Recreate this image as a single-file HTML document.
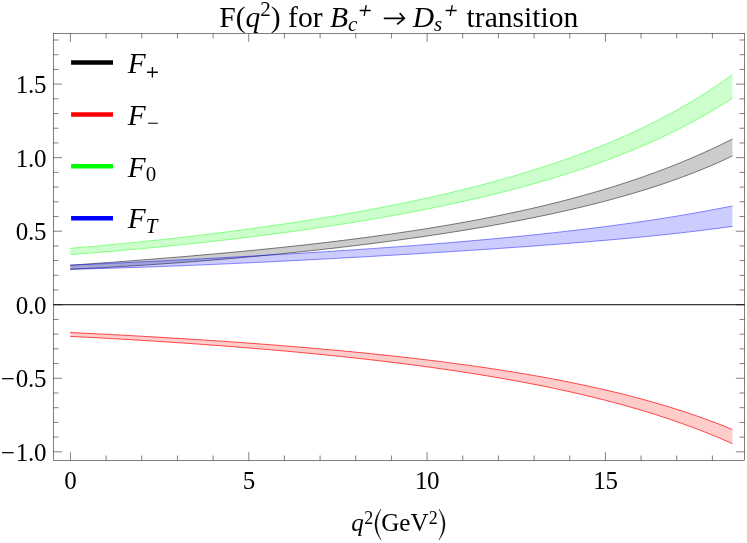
<!DOCTYPE html>
<html><head><meta charset="utf-8"><title>chart</title><style>html,body{margin:0;padding:0;background:#fff;}svg{display:block;will-change:transform;}</style></head><body>
<svg width="747" height="543" viewBox="0 0 747 543">
<rect width="747" height="543" fill="#fff"/>
<path d="M70.20 265.21 L75.76 264.82 L81.33 264.43 L86.89 264.04 L92.46 263.64 L98.02 263.24 L103.59 262.84 L109.15 262.43 L114.72 262.02 L120.28 261.61 L125.85 261.19 L131.41 260.77 L136.98 260.34 L142.54 259.91 L148.11 259.48 L153.67 259.04 L159.24 258.59 L164.80 258.14 L170.36 257.69 L175.93 257.23 L181.49 256.77 L187.06 256.30 L192.62 255.83 L198.19 255.35 L203.75 254.86 L209.32 254.37 L214.88 253.88 L220.45 253.37 L226.01 252.87 L231.58 252.35 L237.14 251.83 L242.71 251.30 L248.27 250.76 L253.84 250.22 L259.40 249.67 L264.96 249.11 L270.53 248.55 L276.09 247.98 L281.66 247.40 L287.22 246.81 L292.79 246.21 L298.35 245.60 L303.92 244.99 L309.48 244.36 L315.05 243.73 L320.61 243.08 L326.18 242.43 L331.74 241.77 L337.31 241.09 L342.87 240.41 L348.44 239.71 L354.00 239.00 L359.56 238.29 L365.13 237.56 L370.69 236.81 L376.26 236.06 L381.82 235.29 L387.39 234.51 L392.95 233.72 L398.52 232.91 L404.08 232.09 L409.65 231.25 L415.21 230.40 L420.78 229.54 L426.34 228.66 L431.91 227.76 L437.47 226.85 L443.04 225.92 L448.60 224.97 L454.16 224.01 L459.73 223.02 L465.29 222.02 L470.86 221.00 L476.42 219.96 L481.99 218.90 L487.55 217.82 L493.12 216.72 L498.68 215.60 L504.25 214.46 L509.81 213.29 L515.38 212.10 L520.94 210.89 L526.51 209.65 L532.07 208.38 L537.64 207.09 L543.20 205.78 L548.76 204.44 L554.33 203.07 L559.89 201.67 L565.46 200.24 L571.02 198.78 L576.59 197.29 L582.15 195.77 L587.72 194.22 L593.28 192.63 L598.85 191.01 L604.41 189.36 L609.98 187.66 L615.54 185.94 L621.11 184.17 L626.67 182.36 L632.24 180.52 L637.80 178.63 L643.36 176.70 L648.93 174.73 L654.49 172.71 L660.06 170.65 L665.62 168.54 L671.19 166.38 L676.75 164.17 L682.32 161.91 L687.88 159.59 L693.45 157.23 L699.01 154.80 L704.58 152.32 L710.14 149.79 L715.71 147.19 L721.27 144.53 L726.84 141.80 L732.40 139.01 L732.40 155.99 L726.84 158.62 L721.27 161.16 L715.71 163.64 L710.14 166.04 L704.58 168.37 L699.01 170.64 L693.45 172.84 L687.88 174.98 L682.32 177.07 L676.75 179.10 L671.19 181.08 L665.62 183.01 L660.06 184.88 L654.49 186.71 L648.93 188.50 L643.36 190.24 L637.80 191.94 L632.24 193.59 L626.67 195.21 L621.11 196.79 L615.54 198.34 L609.98 199.85 L604.41 201.32 L598.85 202.77 L593.28 204.18 L587.72 205.56 L582.15 206.92 L576.59 208.24 L571.02 209.54 L565.46 210.81 L559.89 212.06 L554.33 213.28 L548.76 214.48 L543.20 215.66 L537.64 216.81 L532.07 217.94 L526.51 219.06 L520.94 220.15 L515.38 221.22 L509.81 222.27 L504.25 223.31 L498.68 224.32 L493.12 225.32 L487.55 226.30 L481.99 227.27 L476.42 228.22 L470.86 229.15 L465.29 230.07 L459.73 230.98 L454.16 231.87 L448.60 232.74 L443.04 233.61 L437.47 234.46 L431.91 235.29 L426.34 236.12 L420.78 236.93 L415.21 237.73 L409.65 238.51 L404.08 239.29 L398.52 240.05 L392.95 240.81 L387.39 241.55 L381.82 242.28 L376.26 243.00 L370.69 243.71 L365.13 244.41 L359.56 245.10 L354.00 245.78 L348.44 246.45 L342.87 247.11 L337.31 247.76 L331.74 248.40 L326.18 249.03 L320.61 249.66 L315.05 250.27 L309.48 250.88 L303.92 251.47 L298.35 252.06 L292.79 252.64 L287.22 253.21 L281.66 253.77 L276.09 254.33 L270.53 254.87 L264.96 255.41 L259.40 255.94 L253.84 256.46 L248.27 256.97 L242.71 257.48 L237.14 257.97 L231.58 258.46 L226.01 258.94 L220.45 259.42 L214.88 259.88 L209.32 260.34 L203.75 260.79 L198.19 261.23 L192.62 261.67 L187.06 262.09 L181.49 262.51 L175.93 262.92 L170.36 263.33 L164.80 263.72 L159.24 264.11 L153.67 264.49 L148.11 264.87 L142.54 265.23 L136.98 265.59 L131.41 265.94 L125.85 266.29 L120.28 266.62 L114.72 266.95 L109.15 267.27 L103.59 267.58 L98.02 267.89 L92.46 268.19 L86.89 268.48 L81.33 268.76 L75.76 269.04 L70.20 269.31 Z" fill="#000" fill-opacity="0.2" stroke="none"/>
<path d="M70.20 265.21 L75.76 264.82 L81.33 264.43 L86.89 264.04 L92.46 263.64 L98.02 263.24 L103.59 262.84 L109.15 262.43 L114.72 262.02 L120.28 261.61 L125.85 261.19 L131.41 260.77 L136.98 260.34 L142.54 259.91 L148.11 259.48 L153.67 259.04 L159.24 258.59 L164.80 258.14 L170.36 257.69 L175.93 257.23 L181.49 256.77 L187.06 256.30 L192.62 255.83 L198.19 255.35 L203.75 254.86 L209.32 254.37 L214.88 253.88 L220.45 253.37 L226.01 252.87 L231.58 252.35 L237.14 251.83 L242.71 251.30 L248.27 250.76 L253.84 250.22 L259.40 249.67 L264.96 249.11 L270.53 248.55 L276.09 247.98 L281.66 247.40 L287.22 246.81 L292.79 246.21 L298.35 245.60 L303.92 244.99 L309.48 244.36 L315.05 243.73 L320.61 243.08 L326.18 242.43 L331.74 241.77 L337.31 241.09 L342.87 240.41 L348.44 239.71 L354.00 239.00 L359.56 238.29 L365.13 237.56 L370.69 236.81 L376.26 236.06 L381.82 235.29 L387.39 234.51 L392.95 233.72 L398.52 232.91 L404.08 232.09 L409.65 231.25 L415.21 230.40 L420.78 229.54 L426.34 228.66 L431.91 227.76 L437.47 226.85 L443.04 225.92 L448.60 224.97 L454.16 224.01 L459.73 223.02 L465.29 222.02 L470.86 221.00 L476.42 219.96 L481.99 218.90 L487.55 217.82 L493.12 216.72 L498.68 215.60 L504.25 214.46 L509.81 213.29 L515.38 212.10 L520.94 210.89 L526.51 209.65 L532.07 208.38 L537.64 207.09 L543.20 205.78 L548.76 204.44 L554.33 203.07 L559.89 201.67 L565.46 200.24 L571.02 198.78 L576.59 197.29 L582.15 195.77 L587.72 194.22 L593.28 192.63 L598.85 191.01 L604.41 189.36 L609.98 187.66 L615.54 185.94 L621.11 184.17 L626.67 182.36 L632.24 180.52 L637.80 178.63 L643.36 176.70 L648.93 174.73 L654.49 172.71 L660.06 170.65 L665.62 168.54 L671.19 166.38 L676.75 164.17 L682.32 161.91 L687.88 159.59 L693.45 157.23 L699.01 154.80 L704.58 152.32 L710.14 149.79 L715.71 147.19 L721.27 144.53 L726.84 141.80 L732.40 139.01" fill="none" stroke="#000" stroke-width="0.5"/>
<path d="M70.20 269.31 L75.76 269.04 L81.33 268.76 L86.89 268.48 L92.46 268.19 L98.02 267.89 L103.59 267.58 L109.15 267.27 L114.72 266.95 L120.28 266.62 L125.85 266.29 L131.41 265.94 L136.98 265.59 L142.54 265.23 L148.11 264.87 L153.67 264.49 L159.24 264.11 L164.80 263.72 L170.36 263.33 L175.93 262.92 L181.49 262.51 L187.06 262.09 L192.62 261.67 L198.19 261.23 L203.75 260.79 L209.32 260.34 L214.88 259.88 L220.45 259.42 L226.01 258.94 L231.58 258.46 L237.14 257.97 L242.71 257.48 L248.27 256.97 L253.84 256.46 L259.40 255.94 L264.96 255.41 L270.53 254.87 L276.09 254.33 L281.66 253.77 L287.22 253.21 L292.79 252.64 L298.35 252.06 L303.92 251.47 L309.48 250.88 L315.05 250.27 L320.61 249.66 L326.18 249.03 L331.74 248.40 L337.31 247.76 L342.87 247.11 L348.44 246.45 L354.00 245.78 L359.56 245.10 L365.13 244.41 L370.69 243.71 L376.26 243.00 L381.82 242.28 L387.39 241.55 L392.95 240.81 L398.52 240.05 L404.08 239.29 L409.65 238.51 L415.21 237.73 L420.78 236.93 L426.34 236.12 L431.91 235.29 L437.47 234.46 L443.04 233.61 L448.60 232.74 L454.16 231.87 L459.73 230.98 L465.29 230.07 L470.86 229.15 L476.42 228.22 L481.99 227.27 L487.55 226.30 L493.12 225.32 L498.68 224.32 L504.25 223.31 L509.81 222.27 L515.38 221.22 L520.94 220.15 L526.51 219.06 L532.07 217.94 L537.64 216.81 L543.20 215.66 L548.76 214.48 L554.33 213.28 L559.89 212.06 L565.46 210.81 L571.02 209.54 L576.59 208.24 L582.15 206.92 L587.72 205.56 L593.28 204.18 L598.85 202.77 L604.41 201.32 L609.98 199.85 L615.54 198.34 L621.11 196.79 L626.67 195.21 L632.24 193.59 L637.80 191.94 L643.36 190.24 L648.93 188.50 L654.49 186.71 L660.06 184.88 L665.62 183.01 L671.19 181.08 L676.75 179.10 L682.32 177.07 L687.88 174.98 L693.45 172.84 L699.01 170.64 L704.58 168.37 L710.14 166.04 L715.71 163.64 L721.27 161.16 L726.84 158.62 L732.40 155.99" fill="none" stroke="#000" stroke-width="0.5"/>

<path d="M70.20 332.49 L75.76 332.76 L81.33 333.03 L86.89 333.31 L92.46 333.59 L98.02 333.88 L103.59 334.16 L109.15 334.45 L114.72 334.75 L120.28 335.05 L125.85 335.35 L131.41 335.65 L136.98 335.96 L142.54 336.28 L148.11 336.60 L153.67 336.92 L159.24 337.24 L164.80 337.57 L170.36 337.91 L175.93 338.25 L181.49 338.59 L187.06 338.94 L192.62 339.29 L198.19 339.65 L203.75 340.01 L209.32 340.38 L214.88 340.75 L220.45 341.13 L226.01 341.51 L231.58 341.90 L237.14 342.29 L242.71 342.69 L248.27 343.09 L253.84 343.50 L259.40 343.92 L264.96 344.34 L270.53 344.77 L276.09 345.20 L281.66 345.64 L287.22 346.09 L292.79 346.54 L298.35 347.00 L303.92 347.47 L309.48 347.94 L315.05 348.42 L320.61 348.91 L326.18 349.41 L331.74 349.91 L337.31 350.42 L342.87 350.94 L348.44 351.47 L354.00 352.01 L359.56 352.55 L365.13 353.10 L370.69 353.67 L376.26 354.24 L381.82 354.82 L387.39 355.41 L392.95 356.01 L398.52 356.63 L404.08 357.25 L409.65 357.88 L415.21 358.52 L420.78 359.18 L426.34 359.85 L431.91 360.52 L437.47 361.22 L443.04 361.92 L448.60 362.64 L454.16 363.37 L459.73 364.11 L465.29 364.87 L470.86 365.64 L476.42 366.42 L481.99 367.23 L487.55 368.04 L493.12 368.88 L498.68 369.72 L504.25 370.59 L509.81 371.47 L515.38 372.38 L520.94 373.30 L526.51 374.23 L532.07 375.19 L537.64 376.17 L543.20 377.17 L548.76 378.19 L554.33 379.23 L559.89 380.30 L565.46 381.39 L571.02 382.50 L576.59 383.63 L582.15 384.80 L587.72 385.99 L593.28 387.20 L598.85 388.44 L604.41 389.71 L609.98 391.02 L615.54 392.35 L621.11 393.71 L626.67 395.11 L632.24 396.54 L637.80 398.00 L643.36 399.50 L648.93 401.04 L654.49 402.61 L660.06 404.23 L665.62 405.88 L671.19 407.58 L676.75 409.32 L682.32 411.11 L687.88 412.94 L693.45 414.83 L699.01 416.76 L704.58 418.74 L710.14 420.78 L715.71 422.87 L721.27 425.02 L726.84 427.22 L732.40 429.49 L732.40 443.70 L726.84 441.23 L721.27 438.82 L715.71 436.47 L710.14 434.19 L704.58 431.96 L699.01 429.80 L693.45 427.68 L687.88 425.62 L682.32 423.61 L676.75 421.66 L671.19 419.75 L665.62 417.88 L660.06 416.06 L654.49 414.29 L648.93 412.56 L643.36 410.86 L637.80 409.21 L632.24 407.60 L626.67 406.02 L621.11 404.48 L615.54 402.97 L609.98 401.50 L604.41 400.06 L598.85 398.66 L593.28 397.28 L587.72 395.93 L582.15 394.61 L576.59 393.33 L571.02 392.06 L565.46 390.83 L559.89 389.62 L554.33 388.43 L548.76 387.27 L543.20 386.14 L537.64 385.02 L532.07 383.93 L526.51 382.86 L520.94 381.82 L515.38 380.79 L509.81 379.78 L504.25 378.79 L498.68 377.82 L493.12 376.87 L487.55 375.94 L481.99 375.02 L476.42 374.12 L470.86 373.24 L465.29 372.38 L459.73 371.53 L454.16 370.69 L448.60 369.87 L443.04 369.07 L437.47 368.28 L431.91 367.50 L426.34 366.74 L420.78 365.99 L415.21 365.25 L409.65 364.52 L404.08 363.81 L398.52 363.11 L392.95 362.42 L387.39 361.74 L381.82 361.08 L376.26 360.42 L370.69 359.78 L365.13 359.15 L359.56 358.52 L354.00 357.91 L348.44 357.30 L342.87 356.71 L337.31 356.13 L331.74 355.55 L326.18 354.98 L320.61 354.43 L315.05 353.88 L309.48 353.34 L303.92 352.81 L298.35 352.28 L292.79 351.77 L287.22 351.26 L281.66 350.76 L276.09 350.27 L270.53 349.78 L264.96 349.30 L259.40 348.83 L253.84 348.37 L248.27 347.91 L242.71 347.46 L237.14 347.02 L231.58 346.58 L226.01 346.15 L220.45 345.73 L214.88 345.31 L209.32 344.90 L203.75 344.50 L198.19 344.10 L192.62 343.70 L187.06 343.32 L181.49 342.93 L175.93 342.56 L170.36 342.19 L164.80 341.82 L159.24 341.46 L153.67 341.11 L148.11 340.76 L142.54 340.42 L136.98 340.08 L131.41 339.74 L125.85 339.41 L120.28 339.09 L114.72 338.77 L109.15 338.46 L103.59 338.15 L98.02 337.84 L92.46 337.54 L86.89 337.25 L81.33 336.96 L75.76 336.67 L70.20 336.39 Z" fill="#f00" fill-opacity="0.2" stroke="none"/>
<path d="M70.20 332.49 L75.76 332.76 L81.33 333.03 L86.89 333.31 L92.46 333.59 L98.02 333.88 L103.59 334.16 L109.15 334.45 L114.72 334.75 L120.28 335.05 L125.85 335.35 L131.41 335.65 L136.98 335.96 L142.54 336.28 L148.11 336.60 L153.67 336.92 L159.24 337.24 L164.80 337.57 L170.36 337.91 L175.93 338.25 L181.49 338.59 L187.06 338.94 L192.62 339.29 L198.19 339.65 L203.75 340.01 L209.32 340.38 L214.88 340.75 L220.45 341.13 L226.01 341.51 L231.58 341.90 L237.14 342.29 L242.71 342.69 L248.27 343.09 L253.84 343.50 L259.40 343.92 L264.96 344.34 L270.53 344.77 L276.09 345.20 L281.66 345.64 L287.22 346.09 L292.79 346.54 L298.35 347.00 L303.92 347.47 L309.48 347.94 L315.05 348.42 L320.61 348.91 L326.18 349.41 L331.74 349.91 L337.31 350.42 L342.87 350.94 L348.44 351.47 L354.00 352.01 L359.56 352.55 L365.13 353.10 L370.69 353.67 L376.26 354.24 L381.82 354.82 L387.39 355.41 L392.95 356.01 L398.52 356.63 L404.08 357.25 L409.65 357.88 L415.21 358.52 L420.78 359.18 L426.34 359.85 L431.91 360.52 L437.47 361.22 L443.04 361.92 L448.60 362.64 L454.16 363.37 L459.73 364.11 L465.29 364.87 L470.86 365.64 L476.42 366.42 L481.99 367.23 L487.55 368.04 L493.12 368.88 L498.68 369.72 L504.25 370.59 L509.81 371.47 L515.38 372.38 L520.94 373.30 L526.51 374.23 L532.07 375.19 L537.64 376.17 L543.20 377.17 L548.76 378.19 L554.33 379.23 L559.89 380.30 L565.46 381.39 L571.02 382.50 L576.59 383.63 L582.15 384.80 L587.72 385.99 L593.28 387.20 L598.85 388.44 L604.41 389.71 L609.98 391.02 L615.54 392.35 L621.11 393.71 L626.67 395.11 L632.24 396.54 L637.80 398.00 L643.36 399.50 L648.93 401.04 L654.49 402.61 L660.06 404.23 L665.62 405.88 L671.19 407.58 L676.75 409.32 L682.32 411.11 L687.88 412.94 L693.45 414.83 L699.01 416.76 L704.58 418.74 L710.14 420.78 L715.71 422.87 L721.27 425.02 L726.84 427.22 L732.40 429.49" fill="none" stroke="#f00" stroke-width="0.7"/>
<path d="M70.20 336.39 L75.76 336.67 L81.33 336.96 L86.89 337.25 L92.46 337.54 L98.02 337.84 L103.59 338.15 L109.15 338.46 L114.72 338.77 L120.28 339.09 L125.85 339.41 L131.41 339.74 L136.98 340.08 L142.54 340.42 L148.11 340.76 L153.67 341.11 L159.24 341.46 L164.80 341.82 L170.36 342.19 L175.93 342.56 L181.49 342.93 L187.06 343.32 L192.62 343.70 L198.19 344.10 L203.75 344.50 L209.32 344.90 L214.88 345.31 L220.45 345.73 L226.01 346.15 L231.58 346.58 L237.14 347.02 L242.71 347.46 L248.27 347.91 L253.84 348.37 L259.40 348.83 L264.96 349.30 L270.53 349.78 L276.09 350.27 L281.66 350.76 L287.22 351.26 L292.79 351.77 L298.35 352.28 L303.92 352.81 L309.48 353.34 L315.05 353.88 L320.61 354.43 L326.18 354.98 L331.74 355.55 L337.31 356.13 L342.87 356.71 L348.44 357.30 L354.00 357.91 L359.56 358.52 L365.13 359.15 L370.69 359.78 L376.26 360.42 L381.82 361.08 L387.39 361.74 L392.95 362.42 L398.52 363.11 L404.08 363.81 L409.65 364.52 L415.21 365.25 L420.78 365.99 L426.34 366.74 L431.91 367.50 L437.47 368.28 L443.04 369.07 L448.60 369.87 L454.16 370.69 L459.73 371.53 L465.29 372.38 L470.86 373.24 L476.42 374.12 L481.99 375.02 L487.55 375.94 L493.12 376.87 L498.68 377.82 L504.25 378.79 L509.81 379.78 L515.38 380.79 L520.94 381.82 L526.51 382.86 L532.07 383.93 L537.64 385.02 L543.20 386.14 L548.76 387.27 L554.33 388.43 L559.89 389.62 L565.46 390.83 L571.02 392.06 L576.59 393.33 L582.15 394.61 L587.72 395.93 L593.28 397.28 L598.85 398.66 L604.41 400.06 L609.98 401.50 L615.54 402.97 L621.11 404.48 L626.67 406.02 L632.24 407.60 L637.80 409.21 L643.36 410.86 L648.93 412.56 L654.49 414.29 L660.06 416.06 L665.62 417.88 L671.19 419.75 L676.75 421.66 L682.32 423.61 L687.88 425.62 L693.45 427.68 L699.01 429.80 L704.58 431.96 L710.14 434.19 L715.71 436.47 L721.27 438.82 L726.84 441.23 L732.40 443.70" fill="none" stroke="#f00" stroke-width="0.7"/>

<path d="M70.20 248.32 L75.76 247.85 L81.33 247.37 L86.89 246.88 L92.46 246.39 L98.02 245.89 L103.59 245.38 L109.15 244.86 L114.72 244.33 L120.28 243.80 L125.85 243.25 L131.41 242.70 L136.98 242.14 L142.54 241.57 L148.11 241.00 L153.67 240.41 L159.24 239.82 L164.80 239.21 L170.36 238.60 L175.93 237.98 L181.49 237.35 L187.06 236.71 L192.62 236.06 L198.19 235.40 L203.75 234.74 L209.32 234.06 L214.88 233.37 L220.45 232.67 L226.01 231.97 L231.58 231.25 L237.14 230.52 L242.71 229.78 L248.27 229.03 L253.84 228.27 L259.40 227.50 L264.96 226.72 L270.53 225.93 L276.09 225.12 L281.66 224.30 L287.22 223.48 L292.79 222.64 L298.35 221.78 L303.92 220.92 L309.48 220.04 L315.05 219.15 L320.61 218.24 L326.18 217.33 L331.74 216.39 L337.31 215.45 L342.87 214.49 L348.44 213.51 L354.00 212.52 L359.56 211.52 L365.13 210.50 L370.69 209.46 L376.26 208.41 L381.82 207.34 L387.39 206.26 L392.95 205.15 L398.52 204.03 L404.08 202.89 L409.65 201.74 L415.21 200.56 L420.78 199.36 L426.34 198.15 L431.91 196.91 L437.47 195.65 L443.04 194.38 L448.60 193.07 L454.16 191.75 L459.73 190.41 L465.29 189.03 L470.86 187.64 L476.42 186.22 L481.99 184.77 L487.55 183.30 L493.12 181.80 L498.68 180.28 L504.25 178.72 L509.81 177.13 L515.38 175.52 L520.94 173.87 L526.51 172.19 L532.07 170.48 L537.64 168.73 L543.20 166.95 L548.76 165.13 L554.33 163.27 L559.89 161.38 L565.46 159.45 L571.02 157.47 L576.59 155.45 L582.15 153.39 L587.72 151.29 L593.28 149.13 L598.85 146.94 L604.41 144.69 L609.98 142.39 L615.54 140.03 L621.11 137.62 L626.67 135.16 L632.24 132.64 L637.80 130.06 L643.36 127.41 L648.93 124.70 L654.49 121.93 L660.06 119.08 L665.62 116.17 L671.19 113.18 L676.75 110.11 L682.32 106.97 L687.88 103.74 L693.45 100.43 L699.01 97.03 L704.58 93.54 L710.14 89.95 L715.71 86.27 L721.27 82.48 L726.84 78.59 L732.40 74.59 L732.40 98.29 L726.84 101.88 L721.27 105.37 L715.71 108.76 L710.14 112.07 L704.58 115.28 L699.01 118.41 L693.45 121.46 L687.88 124.42 L682.32 127.31 L676.75 130.13 L671.19 132.88 L665.62 135.55 L660.06 138.17 L654.49 140.71 L648.93 143.20 L643.36 145.63 L637.80 148.00 L632.24 150.31 L626.67 152.57 L621.11 154.78 L615.54 156.93 L609.98 159.04 L604.41 161.10 L598.85 163.12 L593.28 165.09 L587.72 167.02 L582.15 168.91 L576.59 170.76 L571.02 172.57 L565.46 174.34 L559.89 176.08 L554.33 177.78 L548.76 179.45 L543.20 181.08 L537.64 182.69 L532.07 184.26 L526.51 185.80 L520.94 187.31 L515.38 188.79 L509.81 190.25 L504.25 191.67 L498.68 193.08 L493.12 194.45 L487.55 195.80 L481.99 197.13 L476.42 198.44 L470.86 199.72 L465.29 200.98 L459.73 202.21 L454.16 203.43 L448.60 204.63 L443.04 205.80 L437.47 206.96 L431.91 208.10 L426.34 209.22 L420.78 210.32 L415.21 211.40 L409.65 212.47 L404.08 213.51 L398.52 214.55 L392.95 215.56 L387.39 216.56 L381.82 217.55 L376.26 218.52 L370.69 219.47 L365.13 220.41 L359.56 221.34 L354.00 222.25 L348.44 223.15 L342.87 224.04 L337.31 224.91 L331.74 225.77 L326.18 226.62 L320.61 227.45 L315.05 228.27 L309.48 229.08 L303.92 229.88 L298.35 230.67 L292.79 231.44 L287.22 232.21 L281.66 232.96 L276.09 233.70 L270.53 234.44 L264.96 235.16 L259.40 235.87 L253.84 236.57 L248.27 237.26 L242.71 237.94 L237.14 238.61 L231.58 239.27 L226.01 239.92 L220.45 240.56 L214.88 241.20 L209.32 241.82 L203.75 242.43 L198.19 243.04 L192.62 243.63 L187.06 244.22 L181.49 244.80 L175.93 245.37 L170.36 245.93 L164.80 246.48 L159.24 247.02 L153.67 247.56 L148.11 248.09 L142.54 248.61 L136.98 249.12 L131.41 249.62 L125.85 250.11 L120.28 250.60 L114.72 251.08 L109.15 251.55 L103.59 252.01 L98.02 252.46 L92.46 252.91 L86.89 253.35 L81.33 253.78 L75.76 254.20 L70.20 254.62 Z" fill="#0f0" fill-opacity="0.2" stroke="none"/>
<path d="M70.20 248.32 L75.76 247.85 L81.33 247.37 L86.89 246.88 L92.46 246.39 L98.02 245.89 L103.59 245.38 L109.15 244.86 L114.72 244.33 L120.28 243.80 L125.85 243.25 L131.41 242.70 L136.98 242.14 L142.54 241.57 L148.11 241.00 L153.67 240.41 L159.24 239.82 L164.80 239.21 L170.36 238.60 L175.93 237.98 L181.49 237.35 L187.06 236.71 L192.62 236.06 L198.19 235.40 L203.75 234.74 L209.32 234.06 L214.88 233.37 L220.45 232.67 L226.01 231.97 L231.58 231.25 L237.14 230.52 L242.71 229.78 L248.27 229.03 L253.84 228.27 L259.40 227.50 L264.96 226.72 L270.53 225.93 L276.09 225.12 L281.66 224.30 L287.22 223.48 L292.79 222.64 L298.35 221.78 L303.92 220.92 L309.48 220.04 L315.05 219.15 L320.61 218.24 L326.18 217.33 L331.74 216.39 L337.31 215.45 L342.87 214.49 L348.44 213.51 L354.00 212.52 L359.56 211.52 L365.13 210.50 L370.69 209.46 L376.26 208.41 L381.82 207.34 L387.39 206.26 L392.95 205.15 L398.52 204.03 L404.08 202.89 L409.65 201.74 L415.21 200.56 L420.78 199.36 L426.34 198.15 L431.91 196.91 L437.47 195.65 L443.04 194.38 L448.60 193.07 L454.16 191.75 L459.73 190.41 L465.29 189.03 L470.86 187.64 L476.42 186.22 L481.99 184.77 L487.55 183.30 L493.12 181.80 L498.68 180.28 L504.25 178.72 L509.81 177.13 L515.38 175.52 L520.94 173.87 L526.51 172.19 L532.07 170.48 L537.64 168.73 L543.20 166.95 L548.76 165.13 L554.33 163.27 L559.89 161.38 L565.46 159.45 L571.02 157.47 L576.59 155.45 L582.15 153.39 L587.72 151.29 L593.28 149.13 L598.85 146.94 L604.41 144.69 L609.98 142.39 L615.54 140.03 L621.11 137.62 L626.67 135.16 L632.24 132.64 L637.80 130.06 L643.36 127.41 L648.93 124.70 L654.49 121.93 L660.06 119.08 L665.62 116.17 L671.19 113.18 L676.75 110.11 L682.32 106.97 L687.88 103.74 L693.45 100.43 L699.01 97.03 L704.58 93.54 L710.14 89.95 L715.71 86.27 L721.27 82.48 L726.84 78.59 L732.40 74.59" fill="none" stroke="#0f0" stroke-width="0.42"/>
<path d="M70.20 254.62 L75.76 254.20 L81.33 253.78 L86.89 253.35 L92.46 252.91 L98.02 252.46 L103.59 252.01 L109.15 251.55 L114.72 251.08 L120.28 250.60 L125.85 250.11 L131.41 249.62 L136.98 249.12 L142.54 248.61 L148.11 248.09 L153.67 247.56 L159.24 247.02 L164.80 246.48 L170.36 245.93 L175.93 245.37 L181.49 244.80 L187.06 244.22 L192.62 243.63 L198.19 243.04 L203.75 242.43 L209.32 241.82 L214.88 241.20 L220.45 240.56 L226.01 239.92 L231.58 239.27 L237.14 238.61 L242.71 237.94 L248.27 237.26 L253.84 236.57 L259.40 235.87 L264.96 235.16 L270.53 234.44 L276.09 233.70 L281.66 232.96 L287.22 232.21 L292.79 231.44 L298.35 230.67 L303.92 229.88 L309.48 229.08 L315.05 228.27 L320.61 227.45 L326.18 226.62 L331.74 225.77 L337.31 224.91 L342.87 224.04 L348.44 223.15 L354.00 222.25 L359.56 221.34 L365.13 220.41 L370.69 219.47 L376.26 218.52 L381.82 217.55 L387.39 216.56 L392.95 215.56 L398.52 214.55 L404.08 213.51 L409.65 212.47 L415.21 211.40 L420.78 210.32 L426.34 209.22 L431.91 208.10 L437.47 206.96 L443.04 205.80 L448.60 204.63 L454.16 203.43 L459.73 202.21 L465.29 200.98 L470.86 199.72 L476.42 198.44 L481.99 197.13 L487.55 195.80 L493.12 194.45 L498.68 193.08 L504.25 191.67 L509.81 190.25 L515.38 188.79 L520.94 187.31 L526.51 185.80 L532.07 184.26 L537.64 182.69 L543.20 181.08 L548.76 179.45 L554.33 177.78 L559.89 176.08 L565.46 174.34 L571.02 172.57 L576.59 170.76 L582.15 168.91 L587.72 167.02 L593.28 165.09 L598.85 163.12 L604.41 161.10 L609.98 159.04 L615.54 156.93 L621.11 154.78 L626.67 152.57 L632.24 150.31 L637.80 148.00 L643.36 145.63 L648.93 143.20 L654.49 140.71 L660.06 138.17 L665.62 135.55 L671.19 132.88 L676.75 130.13 L682.32 127.31 L687.88 124.42 L693.45 121.46 L699.01 118.41 L704.58 115.28 L710.14 112.07 L715.71 108.76 L721.27 105.37 L726.84 101.88 L732.40 98.29" fill="none" stroke="#0f0" stroke-width="0.42"/>

<path d="M70.20 265.20 L75.76 264.95 L81.33 264.70 L86.89 264.44 L92.46 264.18 L98.02 263.93 L103.59 263.67 L109.15 263.41 L114.72 263.14 L120.28 262.88 L125.85 262.61 L131.41 262.34 L136.98 262.07 L142.54 261.80 L148.11 261.53 L153.67 261.26 L159.24 260.98 L164.80 260.70 L170.36 260.42 L175.93 260.14 L181.49 259.86 L187.06 259.57 L192.62 259.28 L198.19 258.99 L203.75 258.70 L209.32 258.41 L214.88 258.11 L220.45 257.81 L226.01 257.51 L231.58 257.21 L237.14 256.90 L242.71 256.59 L248.27 256.28 L253.84 255.97 L259.40 255.65 L264.96 255.34 L270.53 255.01 L276.09 254.69 L281.66 254.36 L287.22 254.03 L292.79 253.70 L298.35 253.36 L303.92 253.02 L309.48 252.68 L315.05 252.33 L320.61 251.98 L326.18 251.63 L331.74 251.27 L337.31 250.91 L342.87 250.55 L348.44 250.18 L354.00 249.81 L359.56 249.43 L365.13 249.05 L370.69 248.66 L376.26 248.27 L381.82 247.88 L387.39 247.48 L392.95 247.08 L398.52 246.67 L404.08 246.25 L409.65 245.83 L415.21 245.41 L420.78 244.98 L426.34 244.55 L431.91 244.11 L437.47 243.66 L443.04 243.21 L448.60 242.75 L454.16 242.28 L459.73 241.81 L465.29 241.34 L470.86 240.85 L476.42 240.36 L481.99 239.86 L487.55 239.35 L493.12 238.84 L498.68 238.32 L504.25 237.79 L509.81 237.25 L515.38 236.71 L520.94 236.16 L526.51 235.59 L532.07 235.02 L537.64 234.44 L543.20 233.85 L548.76 233.25 L554.33 232.64 L559.89 232.02 L565.46 231.39 L571.02 230.75 L576.59 230.10 L582.15 229.43 L587.72 228.76 L593.28 228.07 L598.85 227.37 L604.41 226.66 L609.98 225.94 L615.54 225.20 L621.11 224.45 L626.67 223.68 L632.24 222.90 L637.80 222.11 L643.36 221.30 L648.93 220.48 L654.49 219.63 L660.06 218.78 L665.62 217.90 L671.19 217.01 L676.75 216.10 L682.32 215.17 L687.88 214.23 L693.45 213.26 L699.01 212.28 L704.58 211.27 L710.14 210.24 L715.71 209.19 L721.27 208.12 L726.84 207.03 L732.40 205.91 L732.40 226.40 L726.84 227.17 L721.27 227.92 L715.71 228.66 L710.14 229.37 L704.58 230.07 L699.01 230.75 L693.45 231.42 L687.88 232.07 L682.32 232.71 L676.75 233.33 L671.19 233.94 L665.62 234.54 L660.06 235.12 L654.49 235.69 L648.93 236.26 L643.36 236.81 L637.80 237.35 L632.24 237.88 L626.67 238.40 L621.11 238.91 L615.54 239.42 L609.98 239.91 L604.41 240.40 L598.85 240.88 L593.28 241.35 L587.72 241.81 L582.15 242.27 L576.59 242.72 L571.02 243.17 L565.46 243.61 L559.89 244.04 L554.33 244.47 L548.76 244.89 L543.20 245.31 L537.64 245.72 L532.07 246.13 L526.51 246.53 L520.94 246.93 L515.38 247.32 L509.81 247.71 L504.25 248.10 L498.68 248.48 L493.12 248.86 L487.55 249.24 L481.99 249.61 L476.42 249.98 L470.86 250.34 L465.29 250.71 L459.73 251.07 L454.16 251.42 L448.60 251.78 L443.04 252.13 L437.47 252.47 L431.91 252.82 L426.34 253.16 L420.78 253.50 L415.21 253.84 L409.65 254.18 L404.08 254.51 L398.52 254.84 L392.95 255.17 L387.39 255.49 L381.82 255.82 L376.26 256.14 L370.69 256.46 L365.13 256.77 L359.56 257.09 L354.00 257.40 L348.44 257.71 L342.87 258.01 L337.31 258.32 L331.74 258.62 L326.18 258.92 L320.61 259.22 L315.05 259.51 L309.48 259.80 L303.92 260.09 L298.35 260.38 L292.79 260.67 L287.22 260.95 L281.66 261.23 L276.09 261.50 L270.53 261.78 L264.96 262.05 L259.40 262.32 L253.84 262.58 L248.27 262.85 L242.71 263.11 L237.14 263.36 L231.58 263.62 L226.01 263.87 L220.45 264.11 L214.88 264.36 L209.32 264.60 L203.75 264.83 L198.19 265.07 L192.62 265.30 L187.06 265.52 L181.49 265.75 L175.93 265.97 L170.36 266.18 L164.80 266.39 L159.24 266.60 L153.67 266.80 L148.11 267.00 L142.54 267.20 L136.98 267.39 L131.41 267.57 L125.85 267.76 L120.28 267.93 L114.72 268.11 L109.15 268.27 L103.59 268.44 L98.02 268.59 L92.46 268.75 L86.89 268.90 L81.33 269.04 L75.76 269.18 L70.20 269.31 Z" fill="#00f" fill-opacity="0.2" stroke="none"/>
<path d="M70.20 265.20 L75.76 264.95 L81.33 264.70 L86.89 264.44 L92.46 264.18 L98.02 263.93 L103.59 263.67 L109.15 263.41 L114.72 263.14 L120.28 262.88 L125.85 262.61 L131.41 262.34 L136.98 262.07 L142.54 261.80 L148.11 261.53 L153.67 261.26 L159.24 260.98 L164.80 260.70 L170.36 260.42 L175.93 260.14 L181.49 259.86 L187.06 259.57 L192.62 259.28 L198.19 258.99 L203.75 258.70 L209.32 258.41 L214.88 258.11 L220.45 257.81 L226.01 257.51 L231.58 257.21 L237.14 256.90 L242.71 256.59 L248.27 256.28 L253.84 255.97 L259.40 255.65 L264.96 255.34 L270.53 255.01 L276.09 254.69 L281.66 254.36 L287.22 254.03 L292.79 253.70 L298.35 253.36 L303.92 253.02 L309.48 252.68 L315.05 252.33 L320.61 251.98 L326.18 251.63 L331.74 251.27 L337.31 250.91 L342.87 250.55 L348.44 250.18 L354.00 249.81 L359.56 249.43 L365.13 249.05 L370.69 248.66 L376.26 248.27 L381.82 247.88 L387.39 247.48 L392.95 247.08 L398.52 246.67 L404.08 246.25 L409.65 245.83 L415.21 245.41 L420.78 244.98 L426.34 244.55 L431.91 244.11 L437.47 243.66 L443.04 243.21 L448.60 242.75 L454.16 242.28 L459.73 241.81 L465.29 241.34 L470.86 240.85 L476.42 240.36 L481.99 239.86 L487.55 239.35 L493.12 238.84 L498.68 238.32 L504.25 237.79 L509.81 237.25 L515.38 236.71 L520.94 236.16 L526.51 235.59 L532.07 235.02 L537.64 234.44 L543.20 233.85 L548.76 233.25 L554.33 232.64 L559.89 232.02 L565.46 231.39 L571.02 230.75 L576.59 230.10 L582.15 229.43 L587.72 228.76 L593.28 228.07 L598.85 227.37 L604.41 226.66 L609.98 225.94 L615.54 225.20 L621.11 224.45 L626.67 223.68 L632.24 222.90 L637.80 222.11 L643.36 221.30 L648.93 220.48 L654.49 219.63 L660.06 218.78 L665.62 217.90 L671.19 217.01 L676.75 216.10 L682.32 215.17 L687.88 214.23 L693.45 213.26 L699.01 212.28 L704.58 211.27 L710.14 210.24 L715.71 209.19 L721.27 208.12 L726.84 207.03 L732.40 205.91" fill="none" stroke="#00f" stroke-width="0.45"/>
<path d="M70.20 269.31 L75.76 269.18 L81.33 269.04 L86.89 268.90 L92.46 268.75 L98.02 268.59 L103.59 268.44 L109.15 268.27 L114.72 268.11 L120.28 267.93 L125.85 267.76 L131.41 267.57 L136.98 267.39 L142.54 267.20 L148.11 267.00 L153.67 266.80 L159.24 266.60 L164.80 266.39 L170.36 266.18 L175.93 265.97 L181.49 265.75 L187.06 265.52 L192.62 265.30 L198.19 265.07 L203.75 264.83 L209.32 264.60 L214.88 264.36 L220.45 264.11 L226.01 263.87 L231.58 263.62 L237.14 263.36 L242.71 263.11 L248.27 262.85 L253.84 262.58 L259.40 262.32 L264.96 262.05 L270.53 261.78 L276.09 261.50 L281.66 261.23 L287.22 260.95 L292.79 260.67 L298.35 260.38 L303.92 260.09 L309.48 259.80 L315.05 259.51 L320.61 259.22 L326.18 258.92 L331.74 258.62 L337.31 258.32 L342.87 258.01 L348.44 257.71 L354.00 257.40 L359.56 257.09 L365.13 256.77 L370.69 256.46 L376.26 256.14 L381.82 255.82 L387.39 255.49 L392.95 255.17 L398.52 254.84 L404.08 254.51 L409.65 254.18 L415.21 253.84 L420.78 253.50 L426.34 253.16 L431.91 252.82 L437.47 252.47 L443.04 252.13 L448.60 251.78 L454.16 251.42 L459.73 251.07 L465.29 250.71 L470.86 250.34 L476.42 249.98 L481.99 249.61 L487.55 249.24 L493.12 248.86 L498.68 248.48 L504.25 248.10 L509.81 247.71 L515.38 247.32 L520.94 246.93 L526.51 246.53 L532.07 246.13 L537.64 245.72 L543.20 245.31 L548.76 244.89 L554.33 244.47 L559.89 244.04 L565.46 243.61 L571.02 243.17 L576.59 242.72 L582.15 242.27 L587.72 241.81 L593.28 241.35 L598.85 240.88 L604.41 240.40 L609.98 239.91 L615.54 239.42 L621.11 238.91 L626.67 238.40 L632.24 237.88 L637.80 237.35 L643.36 236.81 L648.93 236.26 L654.49 235.69 L660.06 235.12 L665.62 234.54 L671.19 233.94 L676.75 233.33 L682.32 232.71 L687.88 232.07 L693.45 231.42 L699.01 230.75 L704.58 230.07 L710.14 229.37 L715.71 228.66 L721.27 227.92 L726.84 227.17 L732.40 226.40" fill="none" stroke="#00f" stroke-width="0.45"/>

<line x1="53.5" y1="304.74" x2="744.5" y2="304.74" stroke="#000" stroke-width="1"/>
<rect x="53.5" y="33.5" width="691.0" height="427.0" fill="none" stroke="#000" stroke-width="0.5"/>
<path d="M70.45 460.50 v-8.40 M70.45 33.50 v8.40 M106.11 460.50 v-5.00 M106.11 33.50 v5.00 M141.78 460.50 v-5.00 M141.78 33.50 v5.00 M177.44 460.50 v-5.00 M177.44 33.50 v5.00 M213.11 460.50 v-5.00 M213.11 33.50 v5.00 M248.77 460.50 v-8.40 M248.77 33.50 v8.40 M284.43 460.50 v-5.00 M284.43 33.50 v5.00 M320.10 460.50 v-5.00 M320.10 33.50 v5.00 M355.76 460.50 v-5.00 M355.76 33.50 v5.00 M391.43 460.50 v-5.00 M391.43 33.50 v5.00 M427.09 460.50 v-8.40 M427.09 33.50 v8.40 M462.75 460.50 v-5.00 M462.75 33.50 v5.00 M498.42 460.50 v-5.00 M498.42 33.50 v5.00 M534.08 460.50 v-5.00 M534.08 33.50 v5.00 M569.75 460.50 v-5.00 M569.75 33.50 v5.00 M605.41 460.50 v-8.40 M605.41 33.50 v8.40 M641.07 460.50 v-5.00 M641.07 33.50 v5.00 M676.74 460.50 v-5.00 M676.74 33.50 v5.00 M712.40 460.50 v-5.00 M712.40 33.50 v5.00 M53.50 451.82 h8.60 M744.50 451.82 h-8.60 M53.50 437.11 h5.00 M744.50 437.11 h-5.00 M53.50 422.40 h5.00 M744.50 422.40 h-5.00 M53.50 407.70 h5.00 M744.50 407.70 h-5.00 M53.50 392.99 h5.00 M744.50 392.99 h-5.00 M53.50 378.28 h8.60 M744.50 378.28 h-8.60 M53.50 363.57 h5.00 M744.50 363.57 h-5.00 M53.50 348.86 h5.00 M744.50 348.86 h-5.00 M53.50 334.16 h5.00 M744.50 334.16 h-5.00 M53.50 319.45 h5.00 M744.50 319.45 h-5.00 M53.50 304.74 h8.60 M744.50 304.74 h-8.60 M53.50 290.03 h5.00 M744.50 290.03 h-5.00 M53.50 275.32 h5.00 M744.50 275.32 h-5.00 M53.50 260.62 h5.00 M744.50 260.62 h-5.00 M53.50 245.91 h5.00 M744.50 245.91 h-5.00 M53.50 231.20 h8.60 M744.50 231.20 h-8.60 M53.50 216.49 h5.00 M744.50 216.49 h-5.00 M53.50 201.78 h5.00 M744.50 201.78 h-5.00 M53.50 187.08 h5.00 M744.50 187.08 h-5.00 M53.50 172.37 h5.00 M744.50 172.37 h-5.00 M53.50 157.66 h8.60 M744.50 157.66 h-8.60 M53.50 142.95 h5.00 M744.50 142.95 h-5.00 M53.50 128.24 h5.00 M744.50 128.24 h-5.00 M53.50 113.54 h5.00 M744.50 113.54 h-5.00 M53.50 98.83 h5.00 M744.50 98.83 h-5.00 M53.50 84.12 h8.60 M744.50 84.12 h-8.60 M53.50 69.41 h5.00 M744.50 69.41 h-5.00 M53.50 54.70 h5.00 M744.50 54.70 h-5.00 M53.50 40.00 h5.00 M744.50 40.00 h-5.00" stroke="#000" stroke-width="0.5" fill="none"/>
<g font-family="Liberation Serif, serif" font-size="25px" fill="#000" letter-spacing="-0.3">
<text x="46.2" y="93.32" text-anchor="end">1.5</text>
<text x="46.2" y="166.86" text-anchor="end">1.0</text>
<text x="46.2" y="240.40" text-anchor="end">0.5</text>
<text x="46.2" y="313.94" text-anchor="end">0.0</text>
<text x="46.2" y="387.48" text-anchor="end"><tspan letter-spacing="1.0">−</tspan>0.5</text>
<text x="46.2" y="461.02" text-anchor="end"><tspan letter-spacing="1.0">−</tspan>1.0</text>
<text x="70.45" y="489.2" text-anchor="middle">0</text>
<text x="248.77" y="489.2" text-anchor="middle">5</text>
<text x="427.09" y="489.2" text-anchor="middle">10</text>
<text x="605.41" y="489.2" text-anchor="middle">15</text>
</g>
<line x1="71.1" y1="62.55" x2="113" y2="62.55" stroke="#000" stroke-width="4.5"/>
<text x="127.8" y="72.90" font-family="Liberation Serif, serif" font-size="29.3px" font-style="italic">F</text>
<path d="M147.1 72.2 H157.8 M152.4 67 V77.4" stroke="#000" stroke-width="1.35" fill="none"/>
<line x1="71.1" y1="114.45" x2="113" y2="114.45" stroke="#f00" stroke-width="4.5"/>
<text x="127.8" y="124.75" font-family="Liberation Serif, serif" font-size="29.3px" font-style="italic">F<tspan font-size="21px" font-style="italic" dy="5.2">−</tspan></text>
<line x1="71.1" y1="166.35" x2="113" y2="166.35" stroke="#0f0" stroke-width="4.5"/>
<text x="127.8" y="176.60" font-family="Liberation Serif, serif" font-size="29.3px" font-style="italic">F<tspan font-size="21px" font-style="normal" dy="4.4">0</tspan></text>
<line x1="71.1" y1="218.25" x2="113" y2="218.25" stroke="#00f" stroke-width="4.5"/>
<text x="127.8" y="228.45" font-family="Liberation Serif, serif" font-size="29.3px" font-style="italic">F<tspan font-size="21px" font-style="italic" dy="4.4">T</tspan></text>
<text x="219.2" y="26.9" font-family="Liberation Serif, serif" font-size="29.6px" xml:space="preserve">F(<tspan font-style="italic">q</tspan><tspan font-size="21.0px" dy="-11.2">2</tspan><tspan dy="11.2">) for </tspan><tspan font-style="italic">B</tspan><tspan font-size="21.0px" font-style="italic" dy="3.8">c</tspan></text>
<path d="M359.70 10.50 H370.70 M366.26 5.20 L364.14 15.80" stroke="#000" stroke-width="1.35" fill="none"/>
<path d="M383.8 18.4 H403.6 M399.7 13 L404.3 18.4 L397.2 24.4" stroke="#000" stroke-width="1.7" fill="none" stroke-linejoin="miter"/>
<text x="412.7" y="26.9" font-family="Liberation Serif, serif" font-size="29.6px" xml:space="preserve"><tspan font-style="italic">D</tspan><tspan font-size="21.0px" font-style="italic" dy="3.8">s</tspan></text>
<path d="M445.70 10.50 H456.70 M452.26 5.20 L450.14 15.80" stroke="#000" stroke-width="1.35" fill="none"/>
<text x="466.6" y="26.9" font-family="Liberation Serif, serif" font-size="29.6px" xml:space="preserve">transition</text>
<text x="351.3" y="530.7" font-family="Liberation Serif, serif" font-size="25px" font-style="italic">q</text>
<text x="364.3" y="523.5" font-family="Liberation Serif, serif" font-size="17.9px">2</text>
<path d="M381 509 Q368.9 524.5 381 540.1 Q372.3 524.5 381 509 Z" fill="#000" stroke="#000" stroke-width="0.35"/>
<text x="381.3" y="530.7" font-family="Liberation Serif, serif" font-size="25px">GeV</text>
<text x="428.7" y="523.5" font-family="Liberation Serif, serif" font-size="17.9px">2</text>
<path d="M439 509 Q451.1 524.5 439 540.1 Q447.7 524.5 439 509 Z" fill="#000" stroke="#000" stroke-width="0.35"/>
</svg>
</body></html>
